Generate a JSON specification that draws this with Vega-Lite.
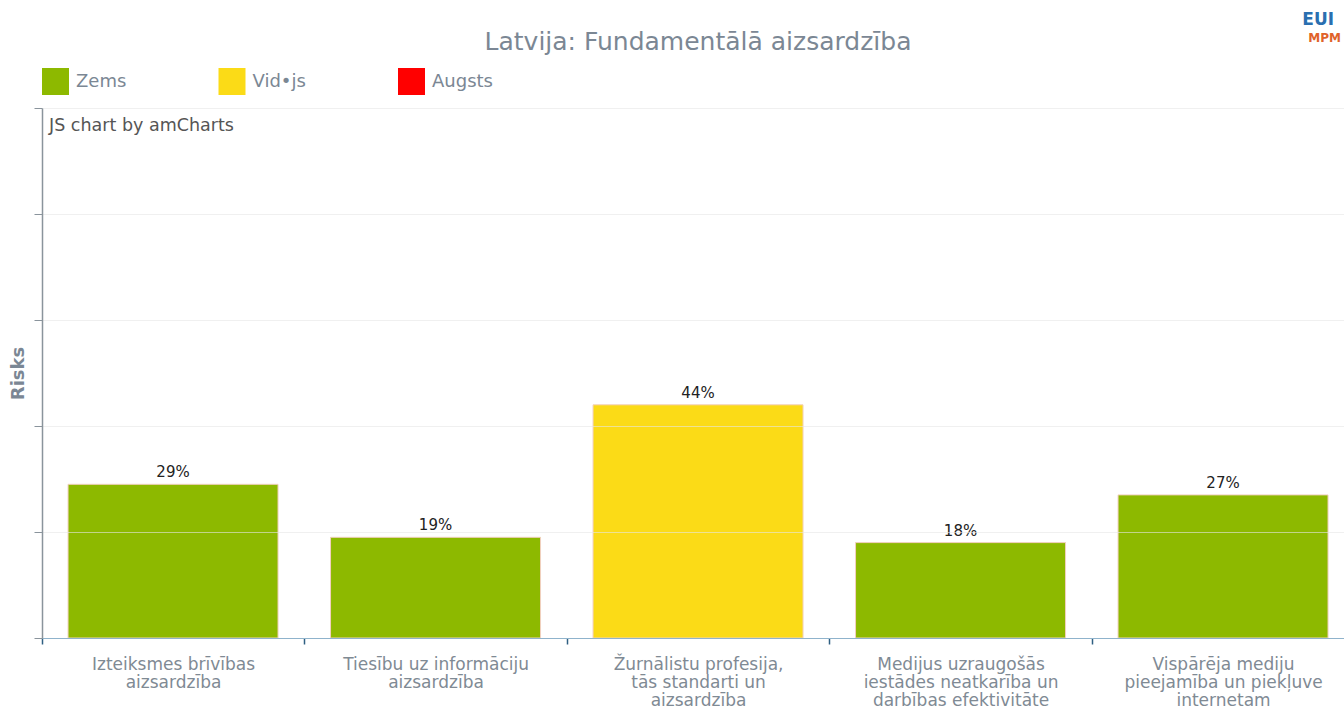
{
  "$schema": "https://vega.github.io/schema/vega-lite/v6.json",
  "autosize": {"type": "none"},
  "padding": {"left": 42, "top": 108, "right": 0, "bottom": 71},
  "width": 1302,
  "height": 530,
  "background": "white",
  "config": {
    "font": "DejaVu Sans",
    "view": {"stroke": null},
    "title": {"font": "DejaVu Sans", "fontSize": 25, "fontWeight": "normal", "color": "#7b8794"}
  },
  "title": {"text": "Latvija: Fundamentālā aizsardzība", "anchor": "middle", "offset": -44, "dx": 5},
  "data": {
    "values": [
      {"kategorija": "Izteiksmes brīvības|aizsardzība", "vertiba": 0.29, "risks": "Zems"},
      {"kategorija": "Tiesību uz informāciju|aizsardzība", "vertiba": 0.19, "risks": "Zems"},
      {"kategorija": "Žurnālistu profesija,|tās standarti un|aizsardzība", "vertiba": 0.44, "risks": "Vid•js"},
      {"kategorija": "Medijus uzraugošās|iestādes neatkarība un|darbības efektivitāte", "vertiba": 0.18, "risks": "Zems"},
      {"kategorija": "Vispārēja mediju|pieejamība un piekļuve|internetam", "vertiba": 0.27, "risks": "Zems"}
    ]
  },
  "encoding": {
    "x": {
      "field": "kategorija", "type": "nominal", "sort": null,
      "scale": {"paddingInner": 0.2, "paddingOuter": 0.08, "align": 0.62},
      "axis": {
        "title": null, "labelAngle": 0, "labelExpr": "split(datum.label, '|')",
        "labelFontSize": 17, "labelColor": "#7f8a94", "labelLineHeight": 18, "labelPadding": 12,
        "labelBaseline": "top", "labelLimit": 400,
        "bandPosition": 0, "tickOffset": -26.25, "labelOffset": 26.25,
        "tickSize": 6, "tickColor": "#2f5f82", "tickWidth": 1.5,
        "domainColor": "#8fb3cc", "domainWidth": 1.2, "grid": false, "zindex": 1
      }
    },
    "y": {
      "field": "vertiba", "type": "quantitative",
      "scale": {"domain": [0, 1]},
      "axis": {
        "title": "Risks", "titleFontSize": 18, "titleFontWeight": "bold", "titleColor": "#7b8794", "titlePadding": 6,
        "labels": false, "values": [0, 0.2, 0.4, 0.6, 0.8, 1],
        "tickSize": 8, "tickColor": "#8a949c", "domainColor": "#8a949c", "domainWidth": 1.5,
        "grid": true, "gridColor": "#e6e6e6", "gridOpacity": 0.6, "zindex": 1
      }
    }
  },
  "layer": [
    {
      "mark": {"type": "bar", "stroke": "#f2d0c0", "strokeWidth": 1},
      "encoding": {
        "color": {
          "field": "risks", "type": "nominal",
          "scale": {"domain": ["Zems", "Vid•js", "Augsts"], "range": ["#8db900", "#fbdb17", "#ff0000"]},
          "legend": {
            "title": null, "orient": "none", "legendX": 0, "legendY": -40, "direction": "horizontal",
            "symbolType": "square", "symbolSize": 729, "symbolStrokeWidth": 0, "symbolOpacity": 1,
            "labelFontSize": 18, "labelColor": "#7b8794", "labelOffset": 7, "columnPadding": 91.5
          }
        }
      }
    },
    {
      "mark": {"type": "text", "baseline": "bottom", "dy": -4, "fontSize": 15, "color": "#222222"},
      "encoding": {"text": {"field": "vertiba", "type": "quantitative", "format": ".0%"}}
    },
    {
      "data": {"values": [{"kategorija": "Izteiksmes brīvības|aizsardzība", "vertiba": 1, "teksts": "JS chart by amCharts"}]},
      "mark": {"type": "text", "align": "left", "baseline": "middle", "dx": -19, "dy": 18, "fontSize": 17.5, "color": "#555555"},
      "encoding": {
        "x": {"field": "kategorija", "type": "nominal", "bandPosition": 0},
        "text": {"field": "teksts", "type": "nominal"}
      }
    },
    {
      "data": {"values": [{"kategorija": "Vispārēja mediju|pieejamība un piekļuve|internetam", "vertiba": 1, "teksts": "MPM"}]},
      "mark": {"type": "text", "align": "right", "baseline": "middle", "dx": 13, "dy": -70, "fontSize": 12, "fontWeight": "bold", "color": "#e0622a"},
      "encoding": {
        "x": {"field": "kategorija", "type": "nominal", "bandPosition": 1},
        "text": {"field": "teksts", "type": "nominal"}
      }
    },
    {
      "data": {"values": [{"kategorija": "Vispārēja mediju|pieejamība un piekļuve|internetam", "vertiba": 1, "teksts": "EUI"}]},
      "mark": {"type": "text", "align": "right", "baseline": "middle", "dx": 6, "dy": -88, "fontSize": 17, "fontWeight": "bold", "color": "#2a6fb0"},
      "encoding": {
        "x": {"field": "kategorija", "type": "nominal", "bandPosition": 1},
        "text": {"field": "teksts", "type": "nominal"}
      }
    }
  ]
}
